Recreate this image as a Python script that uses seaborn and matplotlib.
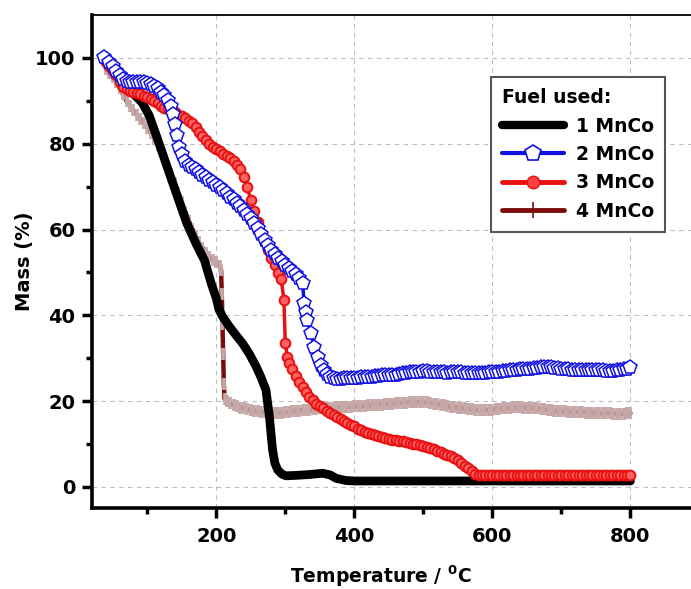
import matplotlib
matplotlib.use("Agg")
import matplotlib.pyplot as plt
from matplotlib.lines import Line2D
import seaborn as sns

# ---------------- data ----------------
series_labels = ["1 MnCo", "2 MnCo", "3 MnCo", "4 MnCo"]
legend_title = "Fuel used:"
x_ticks = [200, 400, 600, 800]
y_ticks = [0, 20, 40, 60, 80, 100]

# 1 MnCo (black)
t1 = [40, 50, 60, 70, 79, 93, 103, 113, 128, 142, 157, 171, 183, 193, 200,
      204, 210, 219, 228, 238, 248, 258, 265, 272, 277, 281.6, 285, 289, 295, 301, 315,
      335, 354, 365, 374, 388, 400, 450, 500, 550, 600, 650, 700, 750, 800]
m1 = [99, 97.5, 95.5, 93.5, 91.8, 89.5, 86.5, 82, 75, 68.5, 61.6, 56.6, 52.8, 47.3, 44,
      41.3, 39.5, 37.4, 35.5, 33.5, 31, 28, 25.5, 22.6, 16.4, 8.6, 5.5, 4, 3, 2.6, 2.7,
      2.9, 3.2, 2.8, 2.0, 1.5, 1.4, 1.4, 1.4, 1.4, 1.4, 1.4, 1.4, 1.4, 1.4]

# 2 MnCo (blue pentagons)
t2 = [38, 45, 50, 55, 60, 65, 70, 75, 80, 85, 90, 95, 100, 105, 110, 115, 120, 125, 130, 135,
      138, 140, 143, 146, 150, 155, 160, 165, 170, 175, 180, 185, 190, 195, 200, 205, 210, 215,
      220, 225, 230, 235, 240, 245, 250, 255, 260, 265, 270, 275, 280, 285, 290, 295, 300, 305,
      310, 315, 320, 325, 327.5, 330, 332, 337, 342, 347, 352, 356, 360, 365, 370, 375, 380,
      385, 390, 395, 400, 405, 410, 415, 420, 425, 430, 435, 440, 445, 450, 455, 460, 465,
      470, 475, 480, 485, 490, 495, 500, 505, 510, 515, 520, 525, 530, 535, 540, 545, 550,
      555, 560, 565, 570, 575, 580, 585, 590, 595, 600, 605, 610, 615, 620, 625, 630, 635,
      640, 645, 650, 655, 660, 665, 670, 675, 680, 685, 690, 695, 700, 705, 710, 715, 720,
      725, 730, 735, 740, 745, 750, 755, 760, 765, 770, 775, 780, 785, 790, 795, 800]
m2 = [100.3, 99, 98, 97, 96, 95.2, 94.7, 94.5, 94.4, 94.5, 94.5, 94.4, 94.2, 93.9, 93.4, 92.9, 92.1, 91.3, 90.3, 88.9,
      87, 84.5, 82, 79.3, 77.5, 75.9, 75.1, 74.5, 74, 73.4, 72.8, 72.2, 71.6, 71, 70.4, 69.8, 69.1, 68.4,
      67.6, 67, 66.3, 65.4, 64.6, 63.7, 62.7, 61.5, 60.3, 58.9, 57.5, 56.4, 55.3, 54.3, 53.4, 52.6, 51.8, 51,
      50.3, 49.6, 48.8, 47.5, 42.8, 40.8, 38.9, 35.8, 32.7, 30.4, 28.4, 27.2, 26.3, 25.6, 25.3, 25.2, 25.2,
      25.3, 25.3, 25.4, 25.5, 25.5, 25.6, 25.6, 25.7, 25.7, 25.8, 25.9, 26.0, 26.0, 26.1, 26.1, 26.2, 26.3,
      26.5, 26.6, 26.7, 26.8, 26.9, 26.9, 27.0, 27.0, 26.9, 26.9, 26.8, 26.7, 26.7, 26.6, 26.7, 26.8, 26.8,
      26.7, 26.6, 26.6, 26.5, 26.5, 26.6, 26.6, 26.6, 26.7, 26.7, 26.8, 26.9, 27.0, 27.1, 27.2, 27.3, 27.3,
      27.4, 27.5, 27.6, 27.6, 27.7, 27.8, 27.9, 27.9, 28.0, 27.9, 27.8, 27.7, 27.6, 27.5, 27.4, 27.3, 27.3,
      27.2, 27.2, 27.2, 27.2, 27.3, 27.3, 27.3, 27.2, 27.1, 27.1, 27.1, 27.2, 27.3, 27.5, 27.6, 28.0]

# 3 MnCo (red circles)
t3 = [40, 45, 50, 55, 60, 65, 70, 75, 80, 85, 90, 95, 100, 105, 110, 115, 120, 125, 130, 135,
      140, 145, 150, 155, 160, 165, 170, 175, 180, 185, 190, 195, 200, 205, 210, 215, 220, 225,
      230, 235, 240, 245, 250, 255, 260, 265, 270, 275, 280, 285, 290, 294, 298, 300,
      303, 306, 310, 315, 320, 325, 330, 335, 340, 345, 350, 355, 360, 365, 370, 375, 380, 385,
      390, 395, 400, 405, 410, 415, 420, 425, 430, 435, 440, 445, 450, 455, 460, 465, 470, 475,
      480, 485, 490, 495, 500, 505, 510, 515, 520, 525, 530, 535, 540, 545, 550, 555, 560, 565,
      570, 575, 580, 585, 590, 595, 600, 605, 610, 615, 620, 625, 630, 635, 640, 645, 650, 655,
      660, 665, 670, 675, 680, 685, 690, 695, 700, 705, 710, 715, 720, 725, 730, 735, 740, 745,
      750, 755, 760, 765, 770, 775, 780, 785, 790, 795, 800]
m3 = [99.1, 98, 97, 96, 94.5, 93.3, 92.7, 92.3, 92.1, 91.8, 91.5, 91.2, 90.8, 90.4, 90, 89.4, 88.8, 88.3, 88, 87.6,
      87.3, 86.8, 86.4, 85.9, 85.4, 84.8, 83.9, 82.8, 81.7, 80.9, 80, 79.2, 78.7, 78.2, 77.7, 77.2, 76.6, 76,
      75.1, 74, 72.3, 69.8, 66.9, 64.3, 61.8, 59.3, 57.1, 55.2, 53.4, 51.8, 49.9, 48.5, 43.6, 33.5,
      30.4, 29, 27.5, 25.8, 24.5, 23.2, 22.1, 21, 20.2, 19.4, 18.8, 18.3, 17.8, 17.3, 16.8, 16.3, 15.8, 15.4,
      15, 14.5, 14.1, 13.6, 13.2, 12.9, 12.6, 12.3, 12.1, 11.8, 11.6, 11.4, 11.2, 11, 10.9, 10.8, 10.7, 10.5,
      10.3, 10.1, 9.9, 9.7, 9.5, 9.3, 9.1, 8.8, 8.5, 8.1, 7.8, 7.5, 7.2, 6.7, 6.2, 5.6, 5.0, 4.4,
      3.7, 3.0, 2.8, 2.8, 2.8, 2.8, 2.8, 2.8, 2.8, 2.8, 2.8, 2.8, 2.8, 2.8, 2.8, 2.8, 2.8, 2.8,
      2.8, 2.8, 2.8, 2.8, 2.8, 2.8, 2.8, 2.8, 2.8, 2.8, 2.8, 2.8, 2.8, 2.8, 2.8, 2.8, 2.8, 2.8,
      2.8, 2.8, 2.8, 2.8, 2.8, 2.8, 2.8, 2.8, 2.8, 2.8, 2.8]

# 4 MnCo (dark red line, pale bar symbols)
t4 = [40, 45, 50, 55, 60, 65, 70, 75, 80, 85, 90, 95, 100, 105, 110, 115, 120, 125, 130, 135,
      140, 145, 150, 155, 160, 165, 170, 175, 180, 185, 190, 195, 200, 205, 207, 208, 209, 210,
      211, 212, 215, 220, 225, 230, 235, 240, 245, 250, 255, 260, 265, 270, 275, 280, 285, 290,
      295, 300, 305, 310, 315, 320, 325, 330, 335, 340, 345, 350, 355, 360, 365, 370, 375, 380,
      385, 390, 395, 400, 405, 410, 415, 420, 425, 430, 435, 440, 445, 450, 455, 460, 465, 470,
      475, 480, 485, 490, 495, 500, 505, 510, 515, 520, 525, 530, 535, 540, 545, 550, 555, 560,
      565, 570, 575, 580, 585, 590, 595, 600, 605, 610, 615, 620, 625, 630, 635, 640, 645, 650,
      655, 660, 665, 670, 675, 680, 685, 690, 695, 700, 705, 710, 715, 720, 725, 730, 735, 740,
      745, 750, 755, 760, 765, 770, 775, 780, 785, 790, 795, 800]
m4 = [97.5, 96.5, 95.5, 94.3, 93, 91.5, 90, 88.8, 87.8, 86.8, 85.8, 84.8, 83.7, 82.5, 81.2, 79.8, 78.3, 76.6, 74.8, 72.9,
      70.8, 68.6, 66.4, 64.2, 62.1, 60.2, 58.5, 57, 55.8, 54.6, 53.6, 53, 52.5, 51.5, 50.5, 45, 38, 31,
      24, 20.5, 20, 19.5, 19.1, 18.8, 18.5, 18.3, 18.1, 17.9, 17.8, 17.6, 17.5, 17.4, 17.3, 17.2, 17.2, 17.2,
      17.3, 17.4, 17.5, 17.6, 17.7, 17.8, 17.9, 17.9, 18.0, 18.1, 18.2, 18.3, 18.3, 18.4, 18.5, 18.5, 18.6, 18.6,
      18.6, 18.7, 18.7, 18.8, 18.8, 18.9, 18.9, 19.0, 19.0, 19.1, 19.2, 19.2, 19.3, 19.3, 19.4, 19.5, 19.5, 19.6,
      19.6, 19.7, 19.7, 19.8, 19.8, 19.7, 19.7, 19.6, 19.4, 19.3, 19.1, 19.0, 18.8, 18.7, 18.6, 18.5, 18.4, 18.3,
      18.2, 18.1, 18.0, 18.0, 18.0, 18.0, 18.0, 18.0, 18.1, 18.2, 18.3, 18.4, 18.5, 18.6, 18.6, 18.6, 18.5, 18.5,
      18.4, 18.4, 18.3, 18.2, 18.1, 18.0, 17.9, 17.8, 17.7, 17.6, 17.6, 17.5, 17.5, 17.5, 17.4, 17.4, 17.3, 17.3,
      17.3, 17.3, 17.2, 17.2, 17.2, 17.2, 17.1, 17.1, 17.1, 17.1, 17.2, 17.2]

# ---------------- style ----------------
sns.set_style("ticks")
plt.rcParams["font.family"] = ["DejaVu Sans"]
plt.rcParams["font.weight"] = "bold"
plt.rcParams["text.color"] = "black"
plt.rcParams["axes.labelcolor"] = "black"
plt.rcParams["xtick.color"] = "black"
plt.rcParams["ytick.color"] = "black"
plt.rcParams["mathtext.fontset"] = "custom"
plt.rcParams["mathtext.rm"] = "DejaVu Sans:bold"
plt.rcParams["mathtext.bf"] = "DejaVu Sans:bold"
plt.rcParams["mathtext.default"] = "bf"

W, H = 691, 589
fig = plt.figure(figsize=(W / 100, H / 100), dpi=100)
ax_left, ax_right, ax_top, ax_bot = 92, 696, 15, 508
ax = fig.add_axes([ax_left / W, 1 - ax_bot / H, (ax_right - ax_left) / W, (ax_bot - ax_top) / H])

black = "#000000"
blue = "#1010e0"
red = "#e81010"
maroon = "#7a0c0c"
pale = "#c6a8a8"

kw = dict(ax=ax, sort=False, estimator=None, legend=False)
sns.lineplot(x=t4, y=m4, color=maroon, lw=3.2, marker="|", markersize=9,
             markeredgewidth=2.7, markeredgecolor=pale, zorder=2, **kw)
sns.lineplot(x=t1, y=m1, color=black, lw=6.3, zorder=3, solid_capstyle="round", **kw)
sns.lineplot(x=t3, y=m3, color=red, lw=2.5, marker="o", markersize=7,
             markerfacecolor="#ff6060", markeredgecolor=red, markeredgewidth=1.4, zorder=4, **kw)
sns.lineplot(x=t2, y=m2, color=blue, lw=2.5, marker="p", markersize=10,
             markerfacecolor="white", markeredgecolor=blue, markeredgewidth=1.1, zorder=5, **kw)

ax.set_xlim(20, 895)
ax.set_ylim(-4.9, 110)
ax.set_xticks(x_ticks)
ax.set_yticks(y_ticks)
ax.set_xticks([100, 300, 500, 700], minor=True)
ax.set_yticks([10, 30, 50, 70, 90], minor=True)
ax.tick_params(axis="both", which="major", direction="out", length=7, width=2.5,
               labelsize=14, colors="black")
ax.tick_params(axis="x", which="major", pad=7)
ax.tick_params(axis="y", which="major", pad=5)
ax.tick_params(axis="both", which="minor", direction="out", length=4, width=2.5, colors="black")
for lab in ax.get_xticklabels() + ax.get_yticklabels():
    lab.set_fontweight("bold")

ax.grid(True, which="major", linestyle=(0, (4, 4)), color="#bdbdbd", lw=0.8)
ax.set_axisbelow(True)

ax.spines["left"].set_linewidth(2.6)
ax.spines["bottom"].set_linewidth(2.6)
ax.spines["top"].set_linewidth(1.3)
ax.spines["right"].set_visible(False)
for s in ax.spines.values():
    s.set_color("black")

ax.set_ylabel("Mass (%)", fontsize=14, fontweight="bold", labelpad=0.5)
ax.set_xlabel(r"Temperature / $^{0}$C", fontsize=13.5, fontweight="bold", labelpad=12, x=0.478)

handles = [
    Line2D([], [], color=black, lw=6, solid_capstyle="round"),
    Line2D([], [], color=blue, lw=3, marker="p", markersize=12,
           markerfacecolor="white", markeredgecolor=blue, markeredgewidth=1.2),
    Line2D([], [], color=red, lw=3.5, marker="o", markersize=9,
           markerfacecolor="#ff4040", markeredgecolor=red),
    Line2D([], [], color=maroon, lw=3.5, marker="|", markersize=11,
           markeredgewidth=1.2, markeredgecolor=maroon),
]
leg = fig.legend(handles, series_labels, title=legend_title, loc="upper right",
                 bbox_to_anchor=(665 / W, 1 - 77 / H), borderaxespad=0, fancybox=False,
                 framealpha=1, edgecolor="#555555", prop={"size": 13.5, "weight": "bold"},
                 title_fontproperties={"size": 13.5, "weight": "bold"},
                 handlelength=3.3, handletextpad=0.6, labelspacing=0.5,
                 borderpad=0.6, alignment="left")
leg.get_frame().set_linewidth(1.5)

fig.savefig("out.png", dpi=100)
